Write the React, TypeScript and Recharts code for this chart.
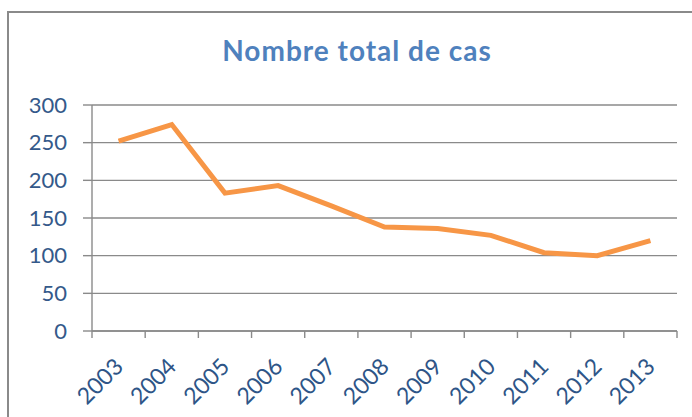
import { LineChart, Line, XAxis, YAxis, CartesianGrid } from 'recharts';

const annees = ['2003', '2004', '2005', '2006', '2007', '2008', '2009', '2010', '2011', '2012', '2013'];
const nombreCas = [252, 274, 183, 193, 166, 138, 136, 127, 104, 100, 120];
const yTicks = [0, 50, 100, 150, 200, 250, 300];

// position numérique au milieu de chaque catégorie (graduations entre catégories, style Excel)
const data = annees.map((annee, i) => ({ annee, pos: i + 0.5, cas: nombreCas[i] }));
const xTicks: number[] = [];
for (let i = 0; i <= annees.length; i++) {
  xTicks.push(i);
  if (i < annees.length) xTicks.push(i + 0.5);
}

const AnneeTick = (props: any) => {
  const { x, y, payload } = props;
  const v = payload.value;
  if (Number.isInteger(v)) {
    // graduation entre deux années
    return <line x1={x} x2={x} y1={y} y2={y + 7} stroke="#8a8a8a" strokeWidth={1.4} />;
  }
  const label = annees[Math.floor(v)];
  const ax = x + 6;
  const ay = y + 37;
  return (
    <text
      x={ax}
      y={ay}
      transform={`rotate(-45, ${ax}, ${ay})`}
      textAnchor="end"
      fill="#2E5587"
      fontSize={23}
      fontFamily="Lato"
    >
      {label}
    </text>
  );
};

export default function App() {
  return (
    <div style={{ position: 'absolute', left: 0, top: 0, width: 692, height: 417, background: '#fff', overflow: 'hidden' }}>
      <div
        style={{
          position: 'absolute',
          left: 7,
          top: 11,
          width: 700,
          height: 420,
          borderLeft: '2px solid #8a8a8a',
          borderTop: '2px solid #8a8a8a',
        }}
      />
      <div
        style={{
          position: 'absolute',
          left: 0,
          width: 714,
          top: 33,
          textAlign: 'center',
          fontFamily: 'Lato',
          fontWeight: 700,
          fontSize: 28,
          letterSpacing: 1,
          color: '#4F81BD',
        }}
      >
        Nombre total de cas
      </div>
      <div style={{ position: 'absolute', left: 0, top: 0 }}>
        <LineChart width={692} height={417} data={data} margin={{ top: 105, right: 15, bottom: 0, left: 32 }}>
          <CartesianGrid vertical={false} stroke="#8a8a8a" strokeWidth={1.4} />
          <XAxis
            type="number"
            dataKey="pos"
            domain={[0, annees.length]}
            ticks={xTicks}
            interval={0}
            tickLine={false}
            tickSize={0}
            tickMargin={0}
            tick={<AnneeTick />}
            height={86}
            stroke="#8a8a8a"
            strokeWidth={1.4}
          />
          <YAxis
            domain={[0, 300]}
            ticks={yTicks}
            interval={0}
            width={60}
            tickSize={9}
            tickMargin={16}
            stroke="#8a8a8a"
            strokeWidth={1.4}
            tick={{ fill: '#34598A', fontSize: 22, fontFamily: 'Lato' }}
          />
          <Line
            type="linear"
            dataKey="cas"
            stroke="#F79646"
            strokeWidth={5}
            dot={false}
            isAnimationActive={false}
          />
        </LineChart>
      </div>
    </div>
  );
}
